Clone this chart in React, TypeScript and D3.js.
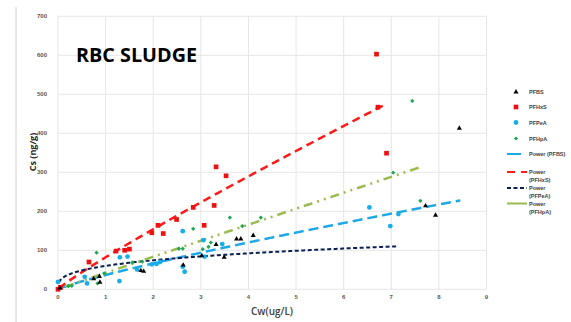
import React, { useRef, useEffect } from "react";
import * as d3 from "d3";

type Pt = [number, number];

// measured points (Cw ug/L, Cs ng/g)
const pfbs: Pt[] = [
  [0.04, 3], [0.75, 27], [0.87, 33], [0.88, 18], [1.74, 48], [1.8, 46],
  [2.63, 62], [3.02, 86], [3.32, 115], [3.49, 82], [3.75, 129], [3.84, 129],
  [4.1, 138], [7.72, 214], [7.93, 190], [8.43, 413],
];
const pfhxs: Pt[] = [
  [0.0, 0], [0.05, 5], [0.65, 70], [1.22, 98], [1.4, 100], [1.5, 103],
  [1.97, 145], [2.1, 164], [2.21, 143], [2.49, 179], [2.84, 210], [3.07, 164],
  [3.28, 215], [3.32, 314], [3.53, 291], [6.69, 603], [6.72, 467], [6.9, 349],
];
const pfpea: Pt[] = [
  [0.0, 19], [0.56, 32], [0.61, 15], [1.29, 21], [1.3, 82], [1.46, 84],
  [1.66, 51], [1.97, 64], [2.07, 65], [2.14, 70], [2.62, 149], [2.62, 58],
  [2.66, 45], [3.05, 126], [3.08, 84], [3.45, 116], [6.54, 210], [6.98, 162],
  [7.15, 193],
];
const pfhpa: Pt[] = [
  [0.22, 8], [0.29, 9], [0.81, 94], [0.83, 15], [0.97, 41], [1.56, 69],
  [1.77, 71], [2.54, 104], [2.62, 104], [2.84, 155], [3.04, 103], [3.16, 109],
  [3.21, 120], [3.61, 184], [3.87, 162], [4.26, 184], [7.04, 299], [7.44, 483],
  [7.61, 227],
];

// power fits y = a * x^b, drawn over [from, to]
const fitNames = ["PFBS", "PFHxS", "PFPeA", "PFHpA"];
const fitA = [36.6, 82, 60, 42];
const fitB = [0.857, 0.91, 0.31, 0.99];
const fitFrom = [0.05, 0.02, 0.02, 0.15];
const fitTo = [8.45, 6.9, 7.15, 7.62];

const xTicks = [0, 1, 2, 3, 4, 5, 6, 7, 8, 9];
const yTicks = [0, 100, 200, 300, 400, 500, 600, 700];

const App: React.FC = () => {
  const ref = useRef<SVGSVGElement | null>(null);

  useEffect(() => {
    const width = 571;
    const height = 322;
    const svg = d3.select(ref.current);
    svg.selectAll("*").remove();
    svg.attr("width", width).attr("height", height).attr("viewBox", `0 0 ${width} ${height}`);

    const x = d3.scaleLinear().domain([0, 9]).range([58, 486.5]);
    const y = d3.scaleLinear().domain([0, 700]).range([289.3, 16.3]);

    svg.append("rect").attr("width", width).attr("height", height).attr("fill", "white");
    // chart frame edge on the left
    svg.append("line").attr("x1", 16).attr("x2", 16).attr("y1", 7).attr("y2", height)
      .attr("stroke", "#d0d0d0").attr("stroke-width", 1);

    // grid
    const grid = svg.append("g").attr("stroke", "#e6e6e6").attr("stroke-width", 1);
    grid.selectAll("line.v").data(xTicks).join("line")
      .attr("x1", (d) => x(d)).attr("x2", (d) => x(d))
      .attr("y1", y(0)).attr("y2", y(700));
    grid.selectAll("line.h").data(yTicks).join("line").attr("class", "h")
      .attr("x1", x(0)).attr("x2", x(9))
      .attr("y1", (d) => y(d)).attr("y2", (d) => y(d));

    const font = "'Liberation Sans', Arial, sans-serif";
    svg.append("g").selectAll("text").data(yTicks).join("text")
      .attr("x", 47).attr("y", (d) => y(d) + 2)
      .attr("text-anchor", "end").attr("font-size", 6).attr("font-weight", "bold")
      .attr("font-family", font).attr("fill", "#595959").text((d) => d);
    svg.append("g").selectAll("text").data(xTicks).join("text")
      .attr("x", (d) => x(d)).attr("y", 299)
      .attr("text-anchor", "middle").attr("font-size", 6).attr("font-weight", "bold")
      .attr("font-family", font).attr("fill", "#595959").text((d) => d);

    // axis titles
    svg.append("text").attr("transform", "translate(36,152) rotate(-90)")
      .attr("text-anchor", "middle").attr("font-size", 9).attr("font-weight", "bold")
      .attr("font-family", "'Open Sans', sans-serif").attr("fill", "#262626").text("Cs (ng/g)");
    svg.append("text").attr("x", 272).attr("y", 315)
      .attr("text-anchor", "middle").attr("font-size", 10).attr("font-weight", 600)
      .attr("font-family", "'Open Sans', sans-serif").attr("fill", "#404040").text("Cw(ug/L)");

    // title
    svg.append("text").attr("x", 76).attr("y", 62)
      .attr("font-size", 20).attr("font-weight", "bold")
      .attr("font-family", "'Open Sans', sans-serif").attr("fill", "#000")
      .attr("textLength", 121).attr("lengthAdjust", "spacingAndGlyphs").text("RBC SLUDGE");

    // trend lines
    const lineColors = ["#1fa8e6", "#ff1a1a", "#0c1f55", "#9bbb4f"];
    const dashes = ["10,5", "8,5", "4,2.5", "9,5,2,5,2,5"];
    const line = d3.line<number>().x((d) => x(d[0])).y((d) => y(d[1]));
    fitNames.forEach((_, i) => {
      const xs = d3.range(0, 201).map((k) => fitFrom[i] + ((fitTo[i] - fitFrom[i]) * k) / 200);
      const pts = xs.map((v) => [v, fitA[i] * Math.pow(v, fitB[i])]);
      svg.append("path").datum(pts as any).attr("d", line as any)
        .attr("fill", "none").attr("stroke", lineColors[i])
        .attr("stroke-width", i === 2 ? 2 : 2.5).attr("stroke-dasharray", dashes[i]);
    });

    // markers
    const tri = d3.symbol().type(d3.symbolTriangle).size(11);
    const sq = d3.symbol().type(d3.symbolSquare).size(22);
    const circ = d3.symbol().type(d3.symbolCircle).size(18);
    const dia = d3.symbol().type(d3.symbolSquare).size(9);
    const drawPts = (data: Pt[], sym: any, fill: string, rot = 0) => {
      svg.append("g").selectAll("path").data(data).join("path")
        .attr("d", sym).attr("fill", fill)
        .attr("transform", (d) => `translate(${x(d[0])},${y(d[1])}) rotate(${rot})`);
    };
    drawPts(pfhxs, sq, "#ee1111");
    drawPts(pfpea, circ, "#16aee8");
    drawPts(pfhpa, dia, "#1aa851", 45);
    drawPts(pfbs, tri, "#000");

    // legend
    const lg = svg.append("g").attr("font-family", font).attr("font-size", 5.5)
      .attr("font-weight", "bold").attr("fill", "#404040");
    const lx = 529;
    const markerRows: [any, string, string, number, number][] = [
      [tri, "#000", "PFBS", 92, 0],
      [sq, "#ee1111", "PFHxS", 107, 0],
      [circ, "#16aee8", "PFPeA", 122.5, 0],
      [dia, "#1aa851", "PFHpA", 138.5, 45],
    ];
    markerRows.forEach(([s, c, t, yy, r]) => {
      lg.append("path").attr("d", s).attr("fill", c)
        .attr("transform", `translate(516,${yy}) rotate(${r})`);
      lg.append("text").attr("x", lx).attr("y", yy + 2).text(t);
    });
    const legendLineY = [154, 172, 188, 203.5];
    const legendDash = ["", "8,6", "4,2.5", ""];
    fitNames.forEach((n, i) => {
      const yy = legendLineY[i];
      lg.append("line").attr("x1", 507).attr("x2", i === 0 ? 521 : 527)
        .attr("y1", yy).attr("y2", yy).attr("stroke", lineColors[i])
        .attr("stroke-width", 2).attr("stroke-dasharray", legendDash[i]);
      if (i === 0) {
        lg.append("text").attr("x", lx).attr("y", yy + 2).text(`Power (${n})`);
      } else {
        lg.append("text").attr("x", lx).attr("y", yy + 2).text("Power");
        lg.append("text").attr("x", lx).attr("y", yy + 10).text(`(${n})`);
      }
    });
  }, []);

  return (
    <div style={{ position: "absolute", left: 0, top: 0 }}>
      <svg ref={ref} style={{ display: "block" }}></svg>
    </div>
  );
};

export default App;
